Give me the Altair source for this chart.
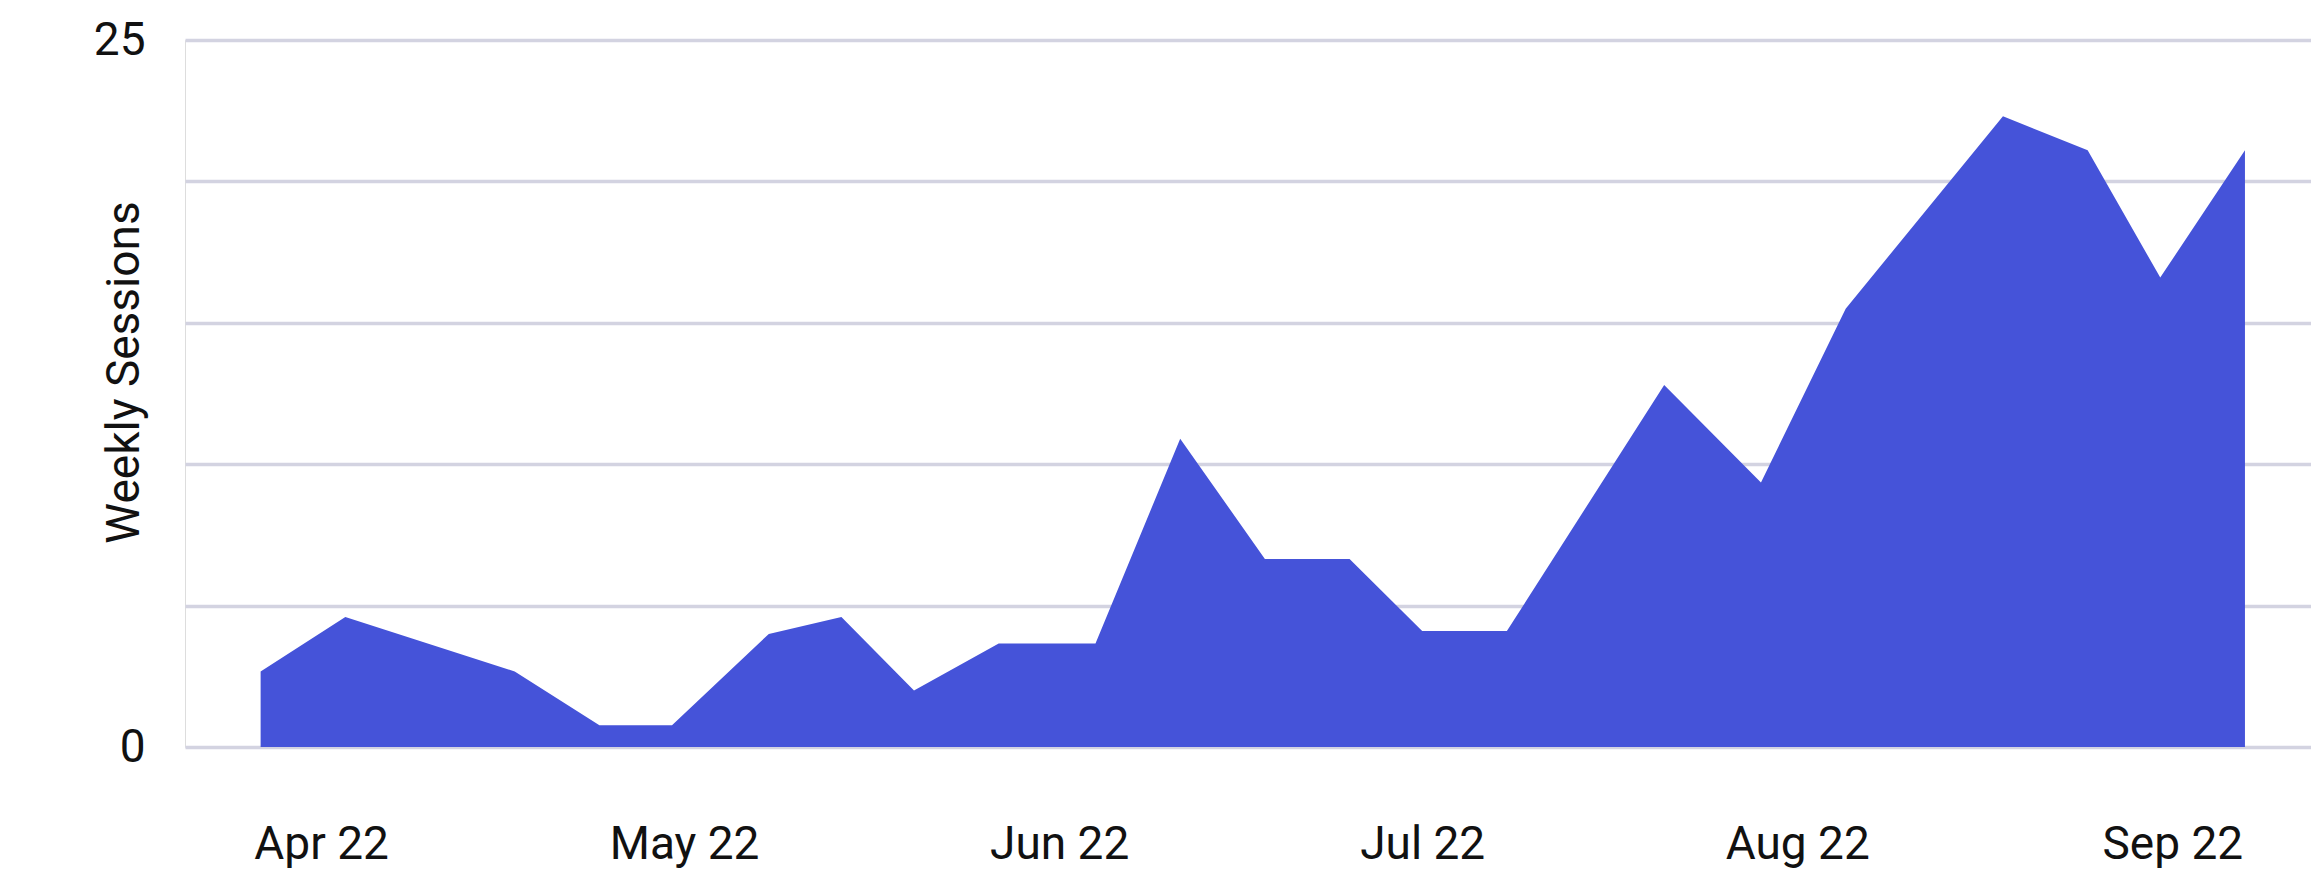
import altair as alt
import pandas as pd

dates = [
    "2022-03-27", "2022-04-03", "2022-04-17", "2022-04-24", "2022-04-30",
    "2022-05-08", "2022-05-14", "2022-05-20", "2022-05-27", "2022-06-04",
    "2022-06-11", "2022-06-18", "2022-06-25", "2022-07-01", "2022-07-08",
    "2022-07-21", "2022-07-29", "2022-08-05", "2022-08-18", "2022-08-25",
    "2022-08-31", "2022-09-07",
]
sessions = [
    2.67, 4.6, 2.67, 0.77, 0.77,
    4.0, 4.6, 2.0, 3.66, 3.66,
    10.9, 6.65, 6.65, 4.1, 4.1,
    12.8, 9.35, 15.5, 22.3, 21.1,
    16.6, 21.1,
]
y_ticks = [0, 5, 10, 15, 20, 25]
x_domain = ["2022-03-20T18:00:00", "2022-09-12T11:00:00"]

df = pd.DataFrame({"date": [d + "T00:00:00" for d in dates], "sessions": sessions})

FONT = "Roboto"

chart = (
    alt.Chart(df)
    .mark_area(color="#4553D9", opacity=1)
    .encode(
        x=alt.X(
            "date:T",
            scale=alt.Scale(domain=x_domain, nice=False),
            axis=alt.Axis(
                title=None,
                format="%b %y",
                tickCount={"interval": "month", "step": 1},
                grid=False,
                ticks=False,
                domain=False,
                labelPadding=75,
                labelFlush=False,
                labelFont=FONT,
                labelFontSize=46,
                labelColor="#111111",
            ),
        ),
        y=alt.Y(
            "sessions:Q",
            scale=alt.Scale(domain=[0, 25], nice=False, zero=True),
            axis=alt.Axis(
                title="Weekly Sessions",
                values=y_ticks,
                labelExpr="datum.value == 0 || datum.value == 25 ? datum.label : ''",
                grid=True,
                gridColor="#D3D3E1",
                gridWidth=3.5,
                ticks=False,
                domain=False,
                labelPadding=40,
                labelFont=FONT,
                labelFontSize=46,
                labelColor="#111111",
                titleFont=FONT,
                titleFontSize=46,
                titleFontWeight="normal",
                titleColor="#111111",
                titleAngle=270,
                titleAlign="center",
                titleBaseline="alphabetic",
                titleX=-47,
                titleY=332,
            ),
        ),
    )
    .properties(
        width=2126,
        height=707,
        autosize=alt.AutoSizeParams(type="none"),
        padding={"left": 177, "top": 32, "right": 0, "bottom": 140},
    )
    .configure_view(stroke=None)
    .configure(background="white")
)

chart.save("out.html", embed_options={"renderer": "svg", "actions": False})
